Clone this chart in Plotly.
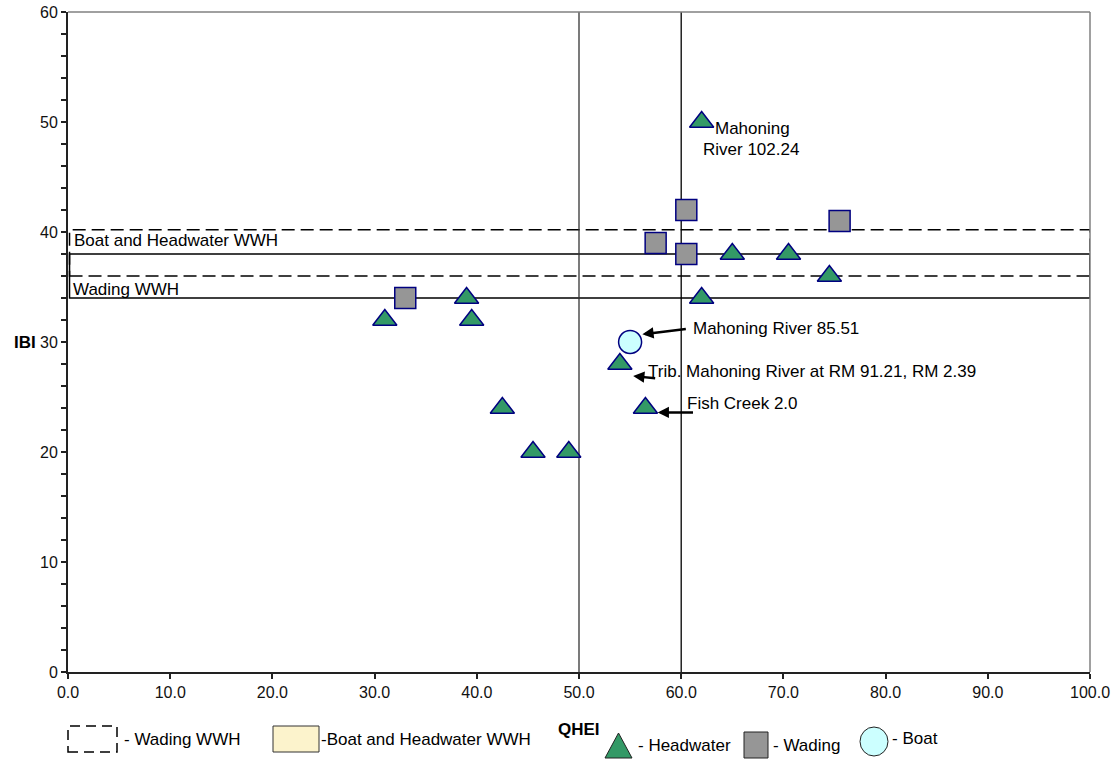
import plotly.graph_objects as go

# ---- data ----
headwater_qhei = [31.0, 39.0, 39.5, 42.5, 45.5, 49.0, 54.0, 56.5, 62.0, 62.0, 65.0, 70.5, 74.5]
headwater_ibi = [32, 34, 32, 24, 20, 20, 28, 24, 50, 34, 38, 38, 36]
wading_qhei = [33.0, 57.5, 60.5, 60.5, 75.5]
wading_ibi = [34, 39, 42, 38, 41]
boat_qhei = [55.0]
boat_ibi = [30]

x_ticks = [0, 10, 20, 30, 40, 50, 60, 70, 80, 90, 100]
y_ticks = [0, 10, 20, 30, 40, 50, 60]
ref_lines_qhei = [50, 60]
wading_wwh_band = [36, 40.2]
boat_hw_wwh_band = [34, 38]

FONT = "Liberation Sans, Arial, sans-serif"
NAVY = "#000080"
DASH = "13px,6px"

W, H = 1120, 759
# plot area in screen pixels
L, R, T, B = 68, 1090, 12, 672
def px(x):
    return (x - L) / (R - L)
def py(y):
    return (B - y) / (B - T)

fig = go.Figure()
fig.add_trace(go.Scatter(x=headwater_qhei, y=headwater_ibi, mode="markers",
                         marker=dict(symbol="triangle-up", size=21, color="#339966",
                                     line=dict(color=NAVY, width=1.5)), showlegend=False))
fig.add_trace(go.Scatter(x=wading_qhei, y=wading_ibi, mode="markers",
                         marker=dict(symbol="square", size=21, color="#969696",
                                     line=dict(color=NAVY, width=1.5)), showlegend=False))
fig.add_trace(go.Scatter(x=boat_qhei, y=boat_ibi, mode="markers",
                         marker=dict(symbol="circle", size=23, color="#CCFFFF",
                                     line=dict(color=NAVY, width=1.5)), showlegend=False))

shapes = []
# criteria bands
shapes.append(dict(type="rect", xref="x", yref="y", x0=0.15, x1=100, y0=wading_wwh_band[0],
                   y1=wading_wwh_band[1], line=dict(color="black", width=1.5, dash=DASH),
                   fillcolor="rgba(0,0,0,0)", layer="below"))
shapes.append(dict(type="rect", xref="x", yref="y", x0=0.15, x1=100, y0=boat_hw_wwh_band[0],
                   y1=boat_hw_wwh_band[1], line=dict(color="black", width=1.5),
                   fillcolor="rgba(0,0,0,0)", layer="below"))
# vertical reference lines
for v, c in zip(ref_lines_qhei, ["#333333", "black"]):
    shapes.append(dict(type="line", xref="x", yref="y", x0=v, x1=v, y0=0, y1=60,
                       line=dict(color=c, width=1.3), layer="below"))
# top/right gray border
shapes.append(dict(type="line", xref="paper", yref="paper", x0=0, x1=1, y0=1, y1=1,
                   line=dict(color="#808080", width=1.5)))
shapes.append(dict(type="line", xref="paper", yref="paper", x0=1, x1=1, y0=0, y1=1,
                   line=dict(color="#808080", width=1.5)))

# legend items (drawn below the axis)
shapes.append(dict(type="rect", xref="paper", yref="paper", x0=px(68), x1=px(117),
                   y0=py(752), y1=py(726), line=dict(color="black", width=1.5, dash="10px,6px")))
shapes.append(dict(type="rect", xref="paper", yref="paper", x0=px(273), x1=px(319),
                   y0=py(752), y1=py(726), line=dict(color="#333333", width=1),
                   fillcolor="#FCF3CC"))
shapes.append(dict(type="path", xref="paper", yref="paper",
                   path=f"M {px(605)},{py(758)} L {px(632)},{py(758)} L {px(618.5)},{py(733)} Z",
                   fillcolor="#339966", line=dict(color="#222222", width=1)))
shapes.append(dict(type="rect", xref="paper", yref="paper", x0=px(744), x1=px(768),
                   y0=py(758), y1=py(732), fillcolor="#969696", line=dict(color="#222222", width=1)))
shapes.append(dict(type="circle", xref="paper", yref="paper", x0=px(860), x1=px(888),
                   y0=py(756), y1=py(727), fillcolor="#CCFFFF", line=dict(color="#222222", width=1)))

ann = []
tf = dict(family=FONT, size=17, color="black")
def text(x, y, s):
    ann.append(dict(x=x, y=y, xref="x", yref="y", text=s, showarrow=False,
                    xanchor="left", yanchor="middle", font=tf))
def ptext(x, y, s, size=17, bold=False, anchor="left"):
    ann.append(dict(x=px(x), y=py(y), xref="paper", yref="paper",
                    text=f"<b>{s}</b>" if bold else s, showarrow=False,
                    xanchor=anchor, yanchor="middle",
                    font=dict(family=FONT, size=size, color="black")))
def arrow(x_head, y_head, x_tail, y_tail):
    ann.append(dict(x=x_head, y=y_head, ax=x_tail, ay=y_tail, xref="x", yref="y",
                    axref="x", ayref="y", text="", showarrow=True, arrowhead=2,
                    arrowsize=0.9, arrowwidth=2.5, arrowcolor="black"))

text(0.4, 39.2, "Boat and Headwater WWH")
text(0.3, 34.8, "Wading WWH")
text(63.1, 49.45, "Mahoning")
text(61.9, 47.5, "River 102.24")
text(61.0, 31.2, "Mahoning River 85.51")
arrow(56.2, 30.7, 60.6, 31.2)
text(56.6, 27.3, "Trib. Mahoning River at RM 91.21, RM 2.39")
arrow(55.3, 26.9, 57.6, 26.7)
text(60.4, 24.4, "Fish Creek 2.0")
arrow(57.7, 23.6, 61.3, 23.6)

# axis titles
ptext(38, 342, "IBI", bold=True, anchor="right")
ptext(579, 729, "QHEI", bold=True, anchor="center")
# legend labels
ptext(122, 739, "- Wading WWH")
ptext(319, 739, "-Boat and Headwater WWH")
ptext(636, 745, "- Headwater")
ptext(771, 745, "- Wading")
ptext(890, 738, "- Boat")

fig.update_layout(
    width=W, height=H,
    margin=dict(l=L, r=W - R, t=T, b=H - B, autoexpand=False),
    paper_bgcolor="white", plot_bgcolor="white",
    font=dict(family=FONT, size=16, color="black"),
    shapes=shapes, annotations=ann, showlegend=False, hovermode=False,
    xaxis=dict(range=[0, 100], tickvals=x_ticks, tickformat=".1f", showgrid=False,
               zeroline=False, showline=True, linecolor="#222222", linewidth=2,
               ticks="outside", ticklen=5, tickcolor="#222222", tickwidth=1.5,
               automargin=False, ticklabeloverflow="allow",
               tickfont=dict(family=FONT, size=16, color="#111111")),
    yaxis=dict(range=[0, 60], tickvals=y_ticks, showgrid=False, zeroline=False,
               showline=True, linecolor="#222222", linewidth=2,
               ticks="outside", ticklen=5, tickcolor="#222222", tickwidth=1.5,
               automargin=False, ticklabeloverflow="allow",
               minor=dict(dtick=2, ticks="outside", ticklen=5, tickcolor="#222222", tickwidth=1.5),
               tickfont=dict(family=FONT, size=16, color="#111111")),
)

# remove the page's default body margin so the figure sits at the window origin
fig.write_html("out.html", config={"displayModeBar": False},
               post_script="document.body.style.margin='0';")
